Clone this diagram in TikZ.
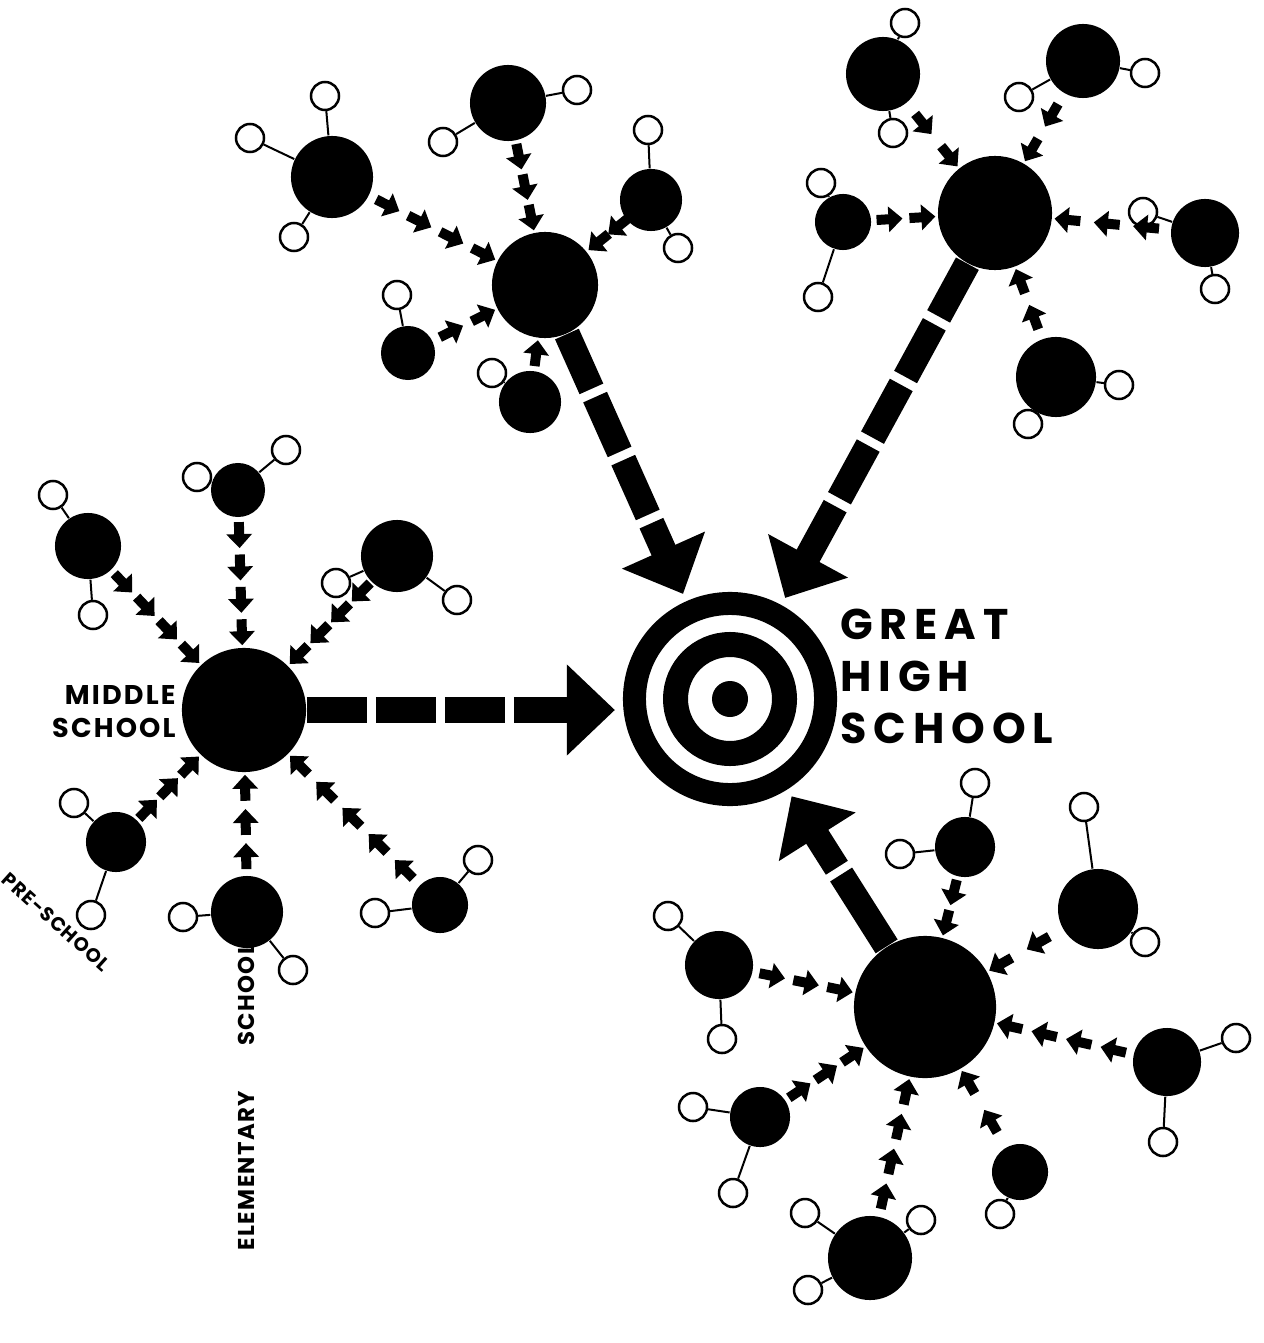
\documentclass[tikz,border=0pt]{standalone}
\usepackage{fontspec}
\newfontfamily\posterfont{Poppins}
\usetikzlibrary{arrows.meta, decorations.markings}

\tikzset{
  atom/.style={circle, fill=black, inner sep=0pt, minimum size=#1*0.02cm},
  hydro/.style={circle, draw, line width=0.025cm, inner sep=0pt, minimum size=0.28cm},
  bond/.style={line width=0.02cm},
  tick/.style={line width=0.1cm, -{Triangle[length=0.14cm,width=0.25cm]}},
  feed/.style={postaction={decorate}, decoration={markings,
      mark=between positions 0 and 0.99 step 1/#1 with {
        \pgfmathsetmacro\seglen{\pgfdecoratedpathlength/#1}
        \draw[tick] ({\seglen pt-0.28cm},0pt) -- ({\seglen pt-0.02cm},0pt);}}},
  trunk/.style={line width=0.26cm, dash pattern=on 0.6cm off 0.09cm,
      -{Triangle[length=0.48cm,width=0.88cm]}, shorten >=0.08cm},
  caption/.style n args={3}{font=\posterfont\bfseries\fontsize{#1}{#2}\selectfont
      \addfontfeature{LetterSpace=#3}},
}

\begin{document}
\begin{tikzpicture}[x=0.01cm, y=-0.01cm]
  \useasboundingbox (0,0) rectangle (1263,1343);

  % the target
  \node[circle, draw, line width=0.23cm, minimum size=1.91cm] (ghs) at (730,699) {};
  \draw[line width=0.25cm] (ghs.center) circle[radius=54.5];
  \fill (ghs.center) circle[radius=18];

  % middle school and its feeders
  \node[atom=62] (ms) at (244,710) {};
  \node[atom=33] (m1) at (88,546) {};
  \node[atom=27] (m2) at (238,490) {};
  \node[atom=36] (m3) at (397,556) {};
  \node[atom=30] (m4) at (116,842) {};
  \node[atom=36] (m5) at (247,912) {};
  \node[atom=28] (m6) at (440,905) {};

  % upper cluster
  \node[atom=53] (ts) at (545,285) {};
  \node[atom=41] (t1) at (332,177) {};
  \node[atom=38] (t2) at (508,103) {};
  \node[atom=31] (t3) at (651,200) {};
  \node[atom=27] (t4) at (408,353) {};
  \node[atom=31] (t5) at (530,402) {};

  % right cluster
  \node[atom=57] (rs) at (995,213) {};
  \node[atom=37] (r1) at (883,74) {};
  \node[atom=37] (r2) at (1083,61) {};
  \node[atom=28] (r3) at (843,222) {};
  \node[atom=34] (r4) at (1205,233) {};
  \node[atom=40] (r5) at (1056,377) {};

  % lower cluster
  \node[atom=71] (bs) at (925,1007) {};
  \node[atom=30] (b1) at (965,847) {};
  \node[atom=40] (b2) at (1098,909) {};
  \node[atom=34] (b3) at (719,965) {};
  \node[atom=34] (b4) at (1167,1062) {};
  \node[atom=30] (b5) at (760,1117) {};
  \node[atom=42] (b6) at (870,1258) {};
  \node[atom=28] (b7) at (1020,1172) {};

  % open circles
  \foreach \n/\x/\y in {m1a/53/495, m1b/93/615, m2a/197/477, m2b/286/450,
      m3a/336/583, m3b/457/600, m4a/74/803, m4b/91/915, m5a/183/917, m5b/293/970,
      m6a/375/913, m6b/478/860,
      t1a/325/96, t1b/294/237, t1c/250/138, t2a/577/90, t2b/443/142,
      t3a/648/130, t3b/678/248, t4a/397/295, t5a/492/373,
      r1a/905/23, r1b/893/133, r2a/1145/73, r2b/1019/97, r3a/821/183, r3b/818/297,
      r4a/1143/212, r4b/1215/289, r5a/1119/385, r5b/1028/424,
      b1a/975/783, b1b/900/854, b2a/1084/807, b2b/1145/942, b3a/668/916, b3b/722/1039,
      b4a/1236/1038, b4b/1163/1142, b5a/693/1107, b5b/733/1193,
      b6a/805/1213, b6b/921/1220, b6c/808/1290, b7a/1000/1214}
    \node[hydro] (\n) at (\x,\y) {};

  \foreach \a/\b in {m1/m1a, m1/m1b, m2/m2a, m2/m2b, m3/m3a, m3/m3b, m4/m4a, m4/m4b,
      m5/m5a, m5/m5b, m6/m6a, m6/m6b, t1/t1a, t1/t1b, t1/t1c, t2/t2a, t2/t2b,
      t3/t3a, t3/t3b, t4/t4a, t5/t5a, r1/r1a, r1/r1b, r2/r2a, r2/r2b, r3/r3a, r3/r3b,
      r4/r4a, r4/r4b, r5/r5a, r5/r5b, b1/b1a, b1/b1b, b2/b2a, b2/b2b, b3/b3a, b3/b3b,
      b4/b4a, b4/b4b, b5/b5a, b5/b5b, b6/b6a, b6/b6b, b6/b6c, b7/b7a}
    \draw[bond] (\a) -- (\b);

  % small feeding arrows
  \foreach \a/\b/\n in {m1/ms/4, m2/ms/4, m3/ms/4, m4/ms/3, m5/ms/3, m6/ms/5,
      t1/ts/4, t2/ts/3, t3/ts/2, t4/ts/2, t5/ts/1,
      r1/rs/2, r2/rs/2, r3/rs/2, r4/rs/3, r5/rs/2,
      b1/bs/2, b2/bs/2, b3/bs/3, b4/bs/4, b5/bs/3, b6/bs/4, b7/bs/2}
    \path[feed=\n] (\a) -- (\b);

  % big arrows into the target
  \draw[trunk] (ms) -- (ms -| ghs.west);
  \draw[trunk] (ts) -- (ghs);
  \draw[trunk] (rs) -- (ghs);
  \draw[trunk, dash pattern=on 0.85cm off 0.08cm] (bs) -- (ghs);

  % labels
  \node[caption={12.2}{14.8}{16}, align=left, anchor=west] (ghslabel) at (828,676)
    {GREAT\\HIGH\\SCHOOL};
  \node[caption={7.7}{9.4}{8}, align=right, anchor=east] (mslabel) at (188,712)
    {MIDDLE\\SCHOOL};
  \node[caption={5.5}{6.6}{6}, rotate=-42] (pslabel) at (56,922)
    {PRE-SCHOOL};
  \node[caption={6.5}{7.8}{6}, rotate=90] (eslabel) at (246,1097)
    {ELEMENTARY\hspace{0.45cm}SCHOOL};
\end{tikzpicture}
\end{document}
